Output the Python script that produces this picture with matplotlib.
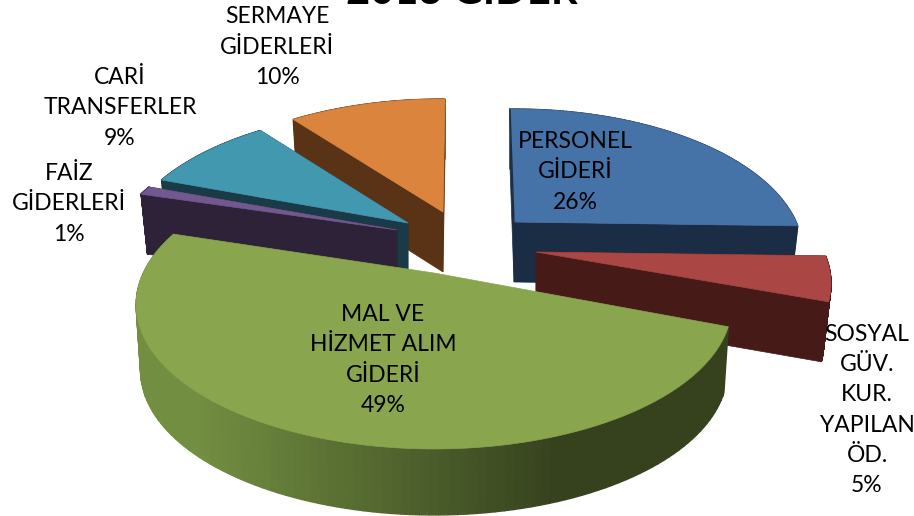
import numpy as np
import matplotlib
matplotlib.use('Agg')
import matplotlib.pyplot as plt
from matplotlib.colors import to_rgb
from matplotlib.patches import Polygon

# datos del grafico
etiquetas = ['PERSONEL\nGİDERİ', 'SOSYAL\nGÜV.\nKUR.\nYAPILAN\nÖD.', 'MAL VE\nHİZMET ALIM\nGİDERİ',
             'FAİZ\nGİDERLERİ', 'CARİ\nTRANSFERLER', 'SERMAYE\nGİDERLERİ']
valores = [26, 5, 49, 1, 9, 10]
titulo = '2013 GİDER'

# estilo de cada porcion
colores = ['#4572A7', '#AA4643', '#89A54E', '#71588F', '#4198AF', '#DB843D']
oscuros = ['#1B2D45', '#451A17', '#36421E', '#2D2238', '#1A3A47', '#5A3316']
centros = [(514, 222), (536, 252), (434, 273), (397, 230), (408, 223), (443, 212)]
escala_x = [0.99, 1.01, 1.02, 0.99, 0.985, 1]
alturas = [60, 60, 66, 60, 60, 60]
encoge = [0.975, 0.975, 0.985, 0.975, 0.975, 0.975]
giro_ini = [1.0, 0, 1.5, 0, 0, 0]
giro_fin = [0, 0, 1.5, 0, 0, 2.5]
pos_texto = [(575, 172), (867, 410), (383, 360), (69, 204), (120, 108), (277, 47)]
orden = [0, 1, 5, 4, 3, 2]

RX, RY, K = 285, 137.6, 0.218
INICIO = -2.0


def proyecta(ang):
    t = np.radians(ang)
    w = 1 + K * np.cos(t)
    return RX * np.sin(t) / w, -RY * np.cos(t) / w


plt.rcParams['font.family'] = ['Lato', 'DejaVu Sans']

fig = plt.figure(figsize=(9.14, 5.16), dpi=100)
ax = fig.add_axes([0, 0, 1, 1])
ax.set_xlim(0, 914)
ax.set_ylim(516, 0)
ax.axis('off')

fines = INICIO + np.cumsum(valores) * 3.6
inicios = fines - np.array(valores) * 3.6

for i in orden:
    cx, cy = centros[i]
    angs = np.linspace(inicios[i] + giro_ini[i], fines[i] + giro_fin[i], 120)
    xs, ys = proyecta(angs)
    xs = xs * escala_x[i]
    x_top, y_top = cx + xs, cy + ys
    x_bot, y_bot = cx + xs * encoge[i], cy + ys + alturas[i]

    # lado exterior, el verde lleva degradado
    for j in range(len(angs) - 1):
        if i == 2:
            f2 = min(1, max(0, (x_top[j] - 200) / 360))
            col = np.array(to_rgb('#728E41')) + (np.array(to_rgb('#36421E')) - np.array(to_rgb('#728E41'))) * f2
        else:
            col = oscuros[i]
        ax.add_patch(Polygon([(x_top[j], y_top[j]), (x_top[j + 1], y_top[j + 1]),
                              (x_bot[j + 1], y_bot[j + 1]), (x_bot[j], y_bot[j])],
                             closed=True, fc=col, ec=col, lw=1.0, zorder=1))
    # caras radiales
    if i != 2:
        for k in (0, -1):
            ax.add_patch(Polygon([(cx, cy), (x_top[k], y_top[k]), (x_bot[k], y_bot[k]), (cx, cy + alturas[i])],
                                 closed=True, fc=oscuros[i], ec=oscuros[i], lw=0.5, zorder=1))
    # cara superior
    ax.add_patch(Polygon(np.column_stack([np.r_[cx, x_top], np.r_[cy, y_top]]),
                         closed=True, fc=colores[i], ec=colores[i], lw=0.5, zorder=1))
    # borde oscuro del azul por la izquierda
    if i == 0:
        ax.plot([cx, x_top[0]], [cy, y_top[0]], color=oscuros[i], lw=1.0, zorder=1)

for i, (x, y) in enumerate(pos_texto):
    ax.text(x, y, etiquetas[i] + '\n%d%%' % valores[i], ha='center', va='center',
            fontsize=16.5, color='black', linespacing=1.53, zorder=3)

# el titulo queda cortado por arriba igual que en el original
ax.text(462, 4, titulo, ha='center', va='baseline', fontsize=30, fontweight='bold', color='black', zorder=3)

fig.savefig('out.png', dpi=100)
